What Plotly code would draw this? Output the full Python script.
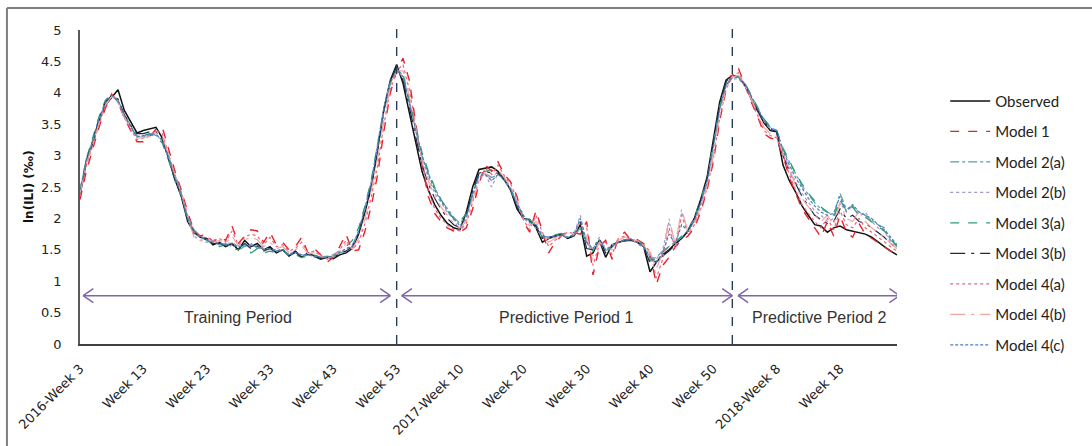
import plotly.graph_objects as go

# ---------------- data ----------------
categories = ([f"2016-Week {w}" for w in range(3, 54)]
              + [f"2017-Week {w}" for w in range(1, 53)]
              + [f"2018-Week {w}" for w in range(1, 28)])

tick_cats = ["2016-Week 3", "2016-Week 13", "2016-Week 23", "2016-Week 33", "2016-Week 43",
             "2016-Week 53", "2017-Week 10", "2017-Week 20", "2017-Week 30", "2017-Week 40",
             "2017-Week 50", "2018-Week 8", "2018-Week 18"]
tick_labels = ["2016-Week 3", "Week 13", "Week 23", "Week 33", "Week 43", "Week 53",
               "2017-Week 10", "Week 20", "Week 30", "Week 40", "Week 50",
               "2018-Week 8", "Week 18"]

observed = [
    2.37, 2.90, 3.20, 3.55, 3.80, 3.92, 4.05, 3.72, 3.55, 3.36,
    3.40, 3.42, 3.45, 3.28, 2.95, 2.62, 2.35, 1.95, 1.78, 1.70,
    1.68, 1.58, 1.62, 1.55, 1.60, 1.50, 1.65, 1.55, 1.60, 1.50,
    1.55, 1.45, 1.50, 1.40, 1.48, 1.38, 1.45, 1.40, 1.35, 1.38,
    1.36, 1.42, 1.45, 1.52, 1.75, 2.10, 2.50, 3.10, 3.75, 4.20,
    4.45, 4.15, 3.70, 3.20, 2.75, 2.45, 2.22, 2.05, 1.92, 1.85,
    1.82, 2.10, 2.50, 2.78, 2.80, 2.82, 2.75, 2.62, 2.45, 2.15,
    2.00, 1.98, 1.85, 1.62, 1.68, 1.72, 1.75, 1.68, 1.72, 1.90,
    1.40, 1.45, 1.65, 1.38, 1.58, 1.62, 1.65, 1.65, 1.62, 1.55,
    1.15, 1.30, 1.42, 1.50, 1.60, 1.68, 1.80, 2.00, 2.30, 2.65,
    3.25, 3.85, 4.20, 4.28, 4.25, 4.12, 3.90, 3.70, 3.52, 3.40,
    3.38, 2.85, 2.60, 2.42, 2.20, 2.05, 1.90, 1.88, 1.78, 1.85,
    1.88, 1.82, 1.80, 1.78, 1.75, 1.70, 1.62, 1.55, 1.48, 1.42]

model_1 = [
    2.30, 2.75, 3.10, 3.45, 3.75, 3.98, 3.85, 3.60, 3.40, 3.22,
    3.22, 3.30, 3.42, 3.45, 3.10, 2.75, 2.45, 2.10, 1.80, 1.72,
    1.75, 1.62, 1.70, 1.65, 1.88, 1.60, 1.72, 1.82, 1.80, 1.62,
    1.78, 1.58, 1.62, 1.50, 1.55, 1.70, 1.45, 1.52, 1.42, 1.30,
    1.38, 1.55, 1.75, 1.48, 1.50, 1.80, 2.20, 2.70, 3.40, 4.00,
    4.35, 4.55, 4.20, 3.50, 2.85, 2.35, 2.08, 1.95, 1.85, 1.80,
    1.78, 1.85, 2.15, 2.55, 2.85, 2.75, 2.90, 2.70, 2.58, 2.35,
    1.95, 1.78, 2.12, 1.80, 1.45, 1.62, 1.72, 1.80, 1.78, 1.75,
    1.95, 1.10, 1.55, 1.65, 1.35, 1.70, 1.78, 1.65, 1.66, 1.60,
    1.45, 0.95, 1.25, 1.38, 1.55, 1.65, 1.72, 1.85, 2.10, 2.45,
    2.90, 3.55, 4.05, 4.32, 4.38, 4.10, 3.85, 3.62, 3.35, 3.28,
    3.25, 3.00, 2.65, 2.40, 2.15, 2.00, 1.85, 1.70, 1.95, 1.72,
    2.05, 1.78, 1.70, 1.92, 1.75, 1.68, 1.62, 1.55, 1.48, 1.45]

model_2a = [
    2.45, 2.95, 3.25, 3.60, 3.85, 3.95, 3.88, 3.65, 3.48, 3.30,
    3.30, 3.35, 3.32, 3.25, 2.98, 2.68, 2.40, 2.02, 1.82, 1.72,
    1.66, 1.62, 1.58, 1.60, 1.55, 1.58, 1.55, 1.60, 1.52, 1.55,
    1.50, 1.48, 1.52, 1.42, 1.45, 1.40, 1.42, 1.40, 1.38, 1.40,
    1.38, 1.45, 1.48, 1.55, 1.78, 2.15, 2.55, 3.15, 3.72, 4.15,
    4.38, 4.28, 3.85, 3.40, 3.00, 2.72, 2.48, 2.30, 2.15, 2.02,
    1.92, 2.05, 2.40, 2.70, 2.72, 2.65, 2.70, 2.60, 2.45, 2.22,
    2.05, 1.95, 1.90, 1.72, 1.70, 1.72, 1.74, 1.70, 1.72, 1.85,
    1.62, 1.50, 1.62, 1.48, 1.55, 1.62, 1.64, 1.66, 1.62, 1.58,
    1.35, 1.38, 1.48, 1.55, 1.62, 1.70, 1.80, 1.98, 2.25, 2.60,
    3.15, 3.75, 4.12, 4.25, 4.25, 4.15, 3.95, 3.75, 3.58, 3.45,
    3.40, 3.10, 2.90, 2.70, 2.52, 2.38, 2.25, 2.15, 2.10, 2.05,
    2.40, 2.15, 2.20, 2.10, 2.05, 1.98, 1.90, 1.85, 1.65, 1.58]

model_2b = [
    2.40, 2.92, 3.22, 3.55, 3.82, 3.95, 3.90, 3.62, 3.45, 3.32,
    3.30, 3.32, 3.35, 3.22, 2.95, 2.65, 2.38, 2.00, 1.72, 1.65,
    1.62, 1.65, 1.60, 1.58, 1.62, 1.55, 1.60, 1.58, 1.55, 1.52,
    1.52, 1.50, 1.48, 1.45, 1.45, 1.42, 1.42, 1.38, 1.40, 1.37,
    1.40, 1.45, 1.50, 1.58, 1.80, 2.18, 2.60, 3.20, 3.78, 4.20,
    4.35, 4.25, 3.80, 3.35, 2.95, 2.65, 2.40, 2.25, 2.10, 1.98,
    1.80, 2.00, 2.35, 2.65, 2.70, 2.50, 2.72, 2.65, 2.48, 2.25,
    2.00, 1.92, 1.85, 1.70, 1.68, 1.70, 1.72, 1.70, 1.75, 2.05,
    1.60, 1.52, 1.70, 1.50, 1.58, 1.62, 1.66, 1.68, 1.60, 1.52,
    1.40, 1.35, 1.50, 1.95, 1.60, 2.10, 1.80, 1.95, 2.22, 2.58,
    3.12, 3.72, 4.10, 4.22, 4.22, 4.10, 3.92, 3.72, 3.55, 3.42,
    3.38, 3.05, 2.80, 2.58, 2.40, 2.25, 2.12, 2.05, 1.95, 2.00,
    2.25, 2.10, 2.20, 2.05, 2.10, 1.95, 1.85, 1.80, 1.62, 1.55]

model_3a = [
    2.42, 2.95, 3.28, 3.62, 3.88, 3.98, 3.85, 3.62, 3.45, 3.30,
    3.32, 3.35, 3.30, 3.20, 2.92, 2.60, 2.35, 1.98, 1.80, 1.72,
    1.65, 1.60, 1.55, 1.58, 1.52, 1.50, 1.55, 1.45, 1.52, 1.45,
    1.48, 1.45, 1.50, 1.40, 1.42, 1.38, 1.40, 1.42, 1.38, 1.40,
    1.42, 1.48, 1.55, 1.65, 1.85, 2.20, 2.62, 3.18, 3.75, 4.18,
    4.40, 4.30, 3.88, 3.45, 3.05, 2.75, 2.50, 2.30, 2.12, 2.00,
    1.95, 2.08, 2.42, 2.72, 2.75, 2.78, 2.72, 2.62, 2.48, 2.20,
    2.08, 1.98, 1.88, 1.70, 1.72, 1.75, 1.76, 1.72, 1.74, 1.88,
    1.58, 1.48, 1.65, 1.45, 1.55, 1.64, 1.66, 1.66, 1.64, 1.58,
    1.32, 1.36, 1.46, 1.55, 1.62, 1.72, 1.82, 2.02, 2.30, 2.62,
    3.18, 3.78, 4.15, 4.27, 4.26, 4.15, 3.96, 3.76, 3.58, 3.46,
    3.40, 3.12, 2.92, 2.72, 2.55, 2.40, 2.28, 2.18, 2.10, 2.02,
    2.30, 2.12, 2.18, 2.05, 2.02, 1.95, 1.88, 1.80, 1.68, 1.55]

model_3b = [
    2.38, 2.92, 3.22, 3.58, 3.85, 3.96, 3.90, 3.65, 3.48, 3.35,
    3.35, 3.38, 3.38, 3.25, 2.95, 2.62, 2.36, 1.98, 1.78, 1.70,
    1.66, 1.60, 1.60, 1.56, 1.58, 1.52, 1.60, 1.52, 1.56, 1.48,
    1.52, 1.46, 1.50, 1.40, 1.46, 1.38, 1.43, 1.40, 1.36, 1.38,
    1.38, 1.44, 1.48, 1.55, 1.78, 2.12, 2.52, 3.12, 3.72, 4.18,
    4.42, 4.20, 3.78, 3.30, 2.85, 2.55, 2.32, 2.15, 2.00, 1.90,
    1.85, 2.05, 2.45, 2.72, 2.75, 2.72, 2.72, 2.62, 2.45, 2.18,
    2.02, 1.95, 1.88, 1.68, 1.70, 1.72, 1.74, 1.70, 1.72, 1.95,
    1.52, 1.50, 1.68, 1.45, 1.55, 1.62, 1.64, 1.66, 1.62, 1.56,
    1.28, 1.32, 1.40, 1.48, 1.58, 1.68, 1.80, 2.00, 2.28, 2.62,
    3.20, 3.80, 4.18, 4.28, 4.26, 4.12, 3.92, 3.72, 3.55, 3.42,
    3.38, 3.00, 2.75, 2.55, 2.35, 2.20, 2.05, 1.98, 1.92, 1.95,
    2.15, 2.00, 2.05, 1.95, 1.92, 1.85, 1.78, 1.70, 1.60, 1.52]

model_4a = [
    2.35, 2.85, 3.15, 3.50, 3.78, 3.95, 3.88, 3.60, 3.42, 3.25,
    3.28, 3.32, 3.40, 3.35, 3.02, 2.70, 2.42, 2.05, 1.78, 1.70,
    1.70, 1.65, 1.68, 1.62, 1.80, 1.58, 1.70, 1.75, 1.72, 1.58,
    1.70, 1.55, 1.58, 1.48, 1.52, 1.62, 1.45, 1.48, 1.40, 1.35,
    1.40, 1.50, 1.65, 1.50, 1.62, 1.92, 2.35, 2.85, 3.50, 4.05,
    4.35, 4.45, 4.05, 3.45, 2.90, 2.45, 2.15, 2.00, 1.90, 1.82,
    1.80, 1.92, 2.25, 2.60, 2.80, 2.70, 2.85, 2.68, 2.55, 2.30,
    1.98, 1.82, 2.05, 1.78, 1.55, 1.65, 1.72, 1.78, 1.76, 1.80,
    1.85, 1.25, 1.58, 1.62, 1.42, 1.68, 1.72, 1.65, 1.66, 1.58,
    1.48, 1.05, 1.35, 1.85, 1.52, 2.05, 1.75, 1.90, 2.15, 2.48,
    2.95, 3.60, 4.05, 4.28, 4.32, 4.12, 3.88, 3.65, 3.40, 3.32,
    3.28, 3.02, 2.70, 2.45, 2.22, 2.08, 1.95, 1.85, 2.00, 1.82,
    2.12, 1.90, 1.85, 2.00, 1.85, 1.78, 1.70, 1.62, 1.55, 1.48]

model_4b = [
    2.40, 2.88, 3.18, 3.52, 3.80, 3.94, 3.85, 3.62, 3.44, 3.28,
    3.28, 3.30, 3.36, 3.30, 3.00, 2.68, 2.40, 2.02, 1.70, 1.65,
    1.68, 1.62, 1.65, 1.60, 1.72, 1.56, 1.66, 1.70, 1.66, 1.55,
    1.62, 1.52, 1.55, 1.46, 1.50, 1.56, 1.44, 1.45, 1.40, 1.36,
    1.40, 1.48, 1.60, 1.52, 1.68, 2.00, 2.45, 2.95, 3.58, 4.10,
    4.35, 4.35, 3.95, 3.42, 2.95, 2.60, 2.35, 2.18, 2.05, 1.92,
    1.85, 1.95, 2.30, 2.62, 2.72, 2.60, 2.78, 2.65, 2.50, 2.28,
    2.00, 1.88, 1.95, 1.75, 1.62, 1.68, 1.72, 1.75, 1.75, 1.95,
    1.70, 1.40, 1.62, 1.55, 1.50, 1.65, 1.70, 1.66, 1.64, 1.56,
    1.45, 1.20, 1.45, 2.00, 1.58, 2.15, 1.78, 1.92, 2.18, 2.52,
    3.00, 3.65, 4.08, 4.25, 4.28, 4.12, 3.90, 3.68, 3.45, 3.35,
    3.30, 3.05, 2.78, 2.52, 2.32, 2.18, 2.05, 1.95, 2.05, 1.90,
    2.25, 2.00, 1.95, 2.12, 1.95, 1.85, 1.78, 1.70, 1.60, 1.52]

model_4c = [
    2.45, 2.92, 3.24, 3.58, 3.84, 3.96, 3.88, 3.64, 3.46, 3.30,
    3.32, 3.34, 3.34, 3.24, 2.96, 2.65, 2.38, 2.00, 1.76, 1.70,
    1.66, 1.62, 1.60, 1.58, 1.60, 1.54, 1.58, 1.56, 1.55, 1.50,
    1.52, 1.48, 1.50, 1.42, 1.46, 1.42, 1.42, 1.40, 1.38, 1.38,
    1.40, 1.46, 1.52, 1.56, 1.80, 2.16, 2.58, 3.16, 3.74, 4.16,
    4.36, 4.26, 3.84, 3.40, 3.00, 2.70, 2.45, 2.28, 2.12, 2.00,
    1.88, 2.02, 2.38, 2.68, 2.70, 2.60, 2.70, 2.62, 2.46, 2.24,
    2.04, 1.94, 1.90, 1.72, 1.70, 1.72, 1.74, 1.70, 1.74, 2.00,
    1.62, 1.52, 1.66, 1.50, 1.56, 1.62, 1.65, 1.67, 1.62, 1.55,
    1.38, 1.30, 1.46, 1.75, 1.60, 1.90, 1.80, 1.96, 2.24, 2.58,
    3.14, 3.74, 4.12, 4.24, 4.24, 4.14, 3.94, 3.74, 3.56, 3.44,
    3.40, 3.08, 2.85, 2.65, 2.48, 2.32, 2.20, 2.10, 2.05, 2.08,
    2.35, 2.12, 2.22, 2.10, 2.05, 2.00, 1.90, 1.82, 1.70, 1.58]

series = [
    ("Observed", observed, "#111111", "solid", 1.5),
    ("Model 1", model_1, "#E3242B", "dash", 1.4),
    ("Model 2(a)", model_2a, "#5A9EA8", "dashdot", 1.2),
    ("Model 2(b)", model_2b, "#9C9CCF", "dot", 1.2),
    ("Model 3(a)", model_3a, "#2E9E72", "dash", 1.3),
    ("Model 3(b)", model_3b, "#1F2A48", "longdashdot", 1.2),
    ("Model 4(a)", model_4a, "#F0607E", "dot", 1.2),
    ("Model 4(b)", model_4b, "#F3A59E", "longdashdot", 1.2),
    ("Model 4(c)", model_4c, "#4A7EBB", "3px,2px", 1.2),
]

periods = [("Training Period", 0.5, 49.0, 24.9),
           ("Predictive Period 1", 50.8, 103.0, 76.7),
           ("Predictive Period 2", 103.9, 129.4, 116.7)]
boundaries = ["2016-Week 53", "2018-Week 1"]

# ---------------- figure ----------------
fig = go.Figure()
for i, (name, vals, color, dash, w) in enumerate(series):
    fig.add_trace(go.Scatter(
        x=categories, y=vals, name=name, mode="lines",
        line=dict(color=color, dash=dash, width=w),
        legendgroup=f"g{i}"))

shapes = []
# outer frame (top and left edges of the chart border)
frame = dict(color="#7f7f7f", width=2)
shapes.append(dict(type="line", xref="paper", yref="paper",
                   x0=-0.0894, x1=1.3, y0=1.0701, y1=1.0701, line=frame))
shapes.append(dict(type="line", xref="paper", yref="paper",
                   x0=-0.0894, x1=-0.0894, y0=-0.4, y1=1.0701, line=frame))
# dashed period boundaries
for b in boundaries:
    idx = categories.index(b)
    shapes.append(dict(type="line", xref="x", yref="paper", x0=idx, x1=idx,
                       y0=0, y1=1.01, line=dict(color="#2B3A5C", width=1.4, dash="dash")))

arrow_y = 0.77
arrow_col = "#7E66A8"
hx, hy = 1.6, 0.11
annotations = []
for label, a0, a1, cx in periods:
    shapes.append(dict(type="line", xref="x", yref="y", x0=a0, x1=a1, y0=arrow_y, y1=arrow_y,
                       line=dict(color=arrow_col, width=1.5)))
    for tip, sgn in ((a0, 1), (a1, -1)):
        for s in (1, -1):
            shapes.append(dict(type="line", xref="x", yref="y", x0=tip, y0=arrow_y,
                               x1=tip + sgn * hx, y1=arrow_y + s * hy,
                               line=dict(color=arrow_col, width=1.5)))
    annotations.append(dict(x=cx, y=0.43, xref="x", yref="y", text=label, showarrow=False,
                            font=dict(family="Liberation Sans, Arial", size=16, color="#333333")))

annotations.append(dict(x=-0.0735, y=0.503, xref="paper", yref="paper", text="<b>ln(ILI) (‰)</b>",
                        showarrow=False, textangle=-90,
                        font=dict(family="DejaVu Sans", size=12, color="#111111")))

fig.update_layout(
    width=1092, height=446,
    margin=dict(l=80, r=195, t=30, b=102, autoexpand=False),
    paper_bgcolor="white", plot_bgcolor="white",
    shapes=shapes, annotations=annotations,
    showlegend=True,
    legend=dict(x=1.059, xanchor="left", y=0.826, yanchor="top",
                font=dict(family="Lato", size=15, color="#222222"),
                tracegroupgap=8, bgcolor="rgba(0,0,0,0)", itemwidth=40),
    xaxis=dict(type="category", range=[0, len(categories) - 1],
               tickmode="array", tickvals=tick_cats, ticktext=tick_labels,
               tickangle=-45, showgrid=False, zeroline=False, automargin=False,
               showline=True, linecolor="#404040", linewidth=2,
               ticks="", ticklabelstandoff=10,
               tickfont=dict(family="DejaVu Sans", size=13, color="#222222")),
    yaxis=dict(range=[0, 5], dtick=0.5, tickmode="linear", tick0=0, automargin=False,
               showgrid=False, zeroline=False, showline=True,
               linecolor="#595959", linewidth=1.5, ticks="", ticklabelstandoff=14,
               tickfont=dict(family="DejaVu Sans", size=13, color="#222222")),
)

fig.write_html("out.html", config={"displayModeBar": False},
               post_script="document.body.style.margin='0';document.body.style.overflow='hidden';")
